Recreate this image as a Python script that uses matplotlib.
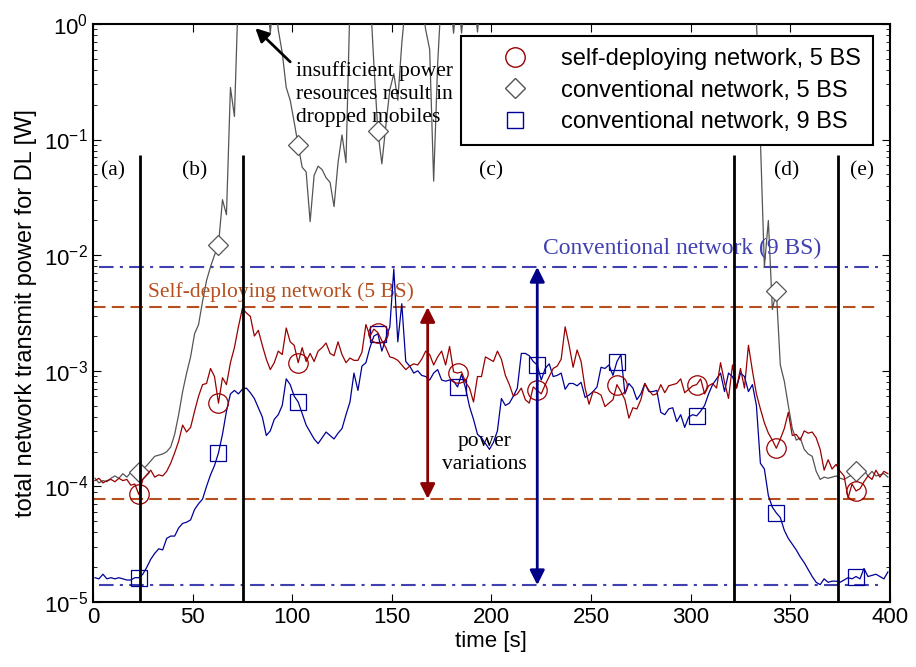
import numpy as np
import matplotlib.pyplot as plt
from matplotlib.lines import Line2D

plt.rcParams['font.family'] = ['Liberation Sans', 'DejaVu Sans']

# time axis of the simulation (one sample every 2 s)
t = np.arange(1, 400, 2)
marker_t = [23, 63, 103, 143, 183, 223, 263, 303, 343, 383]

# log10 of total transmit power [W]
self5_log = [
    -3.95, -3.93, -3.97, -3.95, -3.94, -3.96, -3.93, -3.95, -3.94, -3.99,
    -3.98, -4.07, -3.94, -3.90, -3.86, -3.92, -3.90, -3.91, -3.87, -3.80,
    -3.71, -3.61, -3.47, -3.53, -3.49, -3.35, -3.22, -3.12, -3.11, -2.98,
    -3.05, -3.28, -3.06, -3.12, -2.93, -2.80, -2.62, -2.46, -2.50, -2.53,
    -2.70, -2.65, -2.78, -2.90, -2.99, -2.93, -2.83, -2.86, -2.63, -2.75,
    -2.78, -2.93, -2.80, -2.92, -2.85, -2.92, -2.83, -2.80, -2.76, -2.85,
    -2.87, -2.75, -2.86, -2.93, -2.89, -2.91, -2.91, -2.84, -2.60, -2.70,
    -2.64, -2.67, -2.74, -2.80, -2.88, -2.89, -2.91, -2.95, -2.99, -2.96,
    -2.94, -2.95, -2.90, -2.83, -2.86, -2.95, -2.88, -2.83, -2.95, -2.79,
    -3.01, -3.02, -3.01, -3.10, -3.15, -3.27, -3.05, -3.05, -2.88, -2.90,
    -2.92, -2.83, -2.90, -3.04, -3.12, -3.22, -3.20, -3.15, -3.25, -3.28,
    -3.14, -3.17, -3.20, -3.12, -3.05, -2.98, -2.96, -2.90, -2.62, -2.78,
    -2.97, -2.82, -2.92, -3.15, -3.29, -3.18, -3.19, -3.21, -3.31, -3.28,
    -3.25, -3.12, -3.18, -3.25, -3.41, -3.32, -3.33, -3.25, -3.11, -3.17,
    -3.21, -3.20, -3.12, -3.19, -3.13, -3.12, -3.11, -3.07, -3.19, -3.16,
    -3.13, -3.12, -3.07, -3.20, -3.13, -3.11, -3.15, -2.93, -3.10, -3.24,
    -2.95, -3.15, -2.98, -3.15, -2.78, -3.00, -3.20, -3.33, -3.45, -3.54,
    -3.60, -3.67, -3.59, -3.50, -3.36, -3.56, -3.55, -3.60, -3.52, -3.54,
    -3.53, -3.58, -3.68, -3.86, -3.77, -3.85, -3.81, -3.87, -3.91, -4.10,
    -3.98, -4.04, -4.02, -3.96, -3.91, -3.94, -3.86, -3.92, -3.87, -3.89,
]

conv5_log = [
    -3.93, -3.97, -3.95, -3.96, -3.93, -3.91, -3.93, -3.89, -3.92, -3.88,
    -3.92, -3.88, -3.85, -3.82, -3.78, -3.74, -3.73, -3.72, -3.70, -3.66,
    -3.55, -3.38, -3.18, -3.02, -2.88, -2.68, -2.60, -2.40, -2.22, -2.10,
    -2.00, -1.91, -1.52, -1.65, -0.55, -0.80, 0.30, 0.50, 0.50, 0.40,
    0.50, 0.50, 0.40, 0.30, -0.08, 0.30, -0.05, -0.25, -0.55, -0.66,
    -0.85, -1.05, -1.24, -1.28, -1.71, -1.31, -1.23, -1.26, -1.33, -1.37,
    -1.58, -1.20, -0.96, -1.20, 0.20, 0.40, 0.50, 0.50, 0.50, 0.30,
    -0.35, -0.93, -1.21, -0.88, -0.57, -0.43, -0.66, -0.17, 0.20, 0.40,
    0.50, 0.40, 0.20, -0.05, -0.22, -1.36, -0.35, 0.30, 0.50, 0.30,
    -0.08, 0.30, -0.08, 0.30, 0.50, 0.30, -0.07, 0.30, 0.50, 0.50,
    0.50, 0.60, 0.50, 0.40, 0.50, 0.60, 0.50, 0.50, 0.40, 0.50,
    0.50, 0.60, 0.50, 0.50, 0.40, 0.50, 0.60, 0.50, 0.50, 0.50,
    0.40, 0.50, 0.50, 0.60, 0.50, 0.50, 0.40, 0.50, 0.50, 0.60,
    0.50, 0.50, 0.40, 0.50, 0.60, 0.50, 0.50, 0.40, 0.50, 0.50,
    0.60, 0.50, 0.50, 0.40, 0.50, 0.50, 0.60, 0.50, 0.50, 0.40,
    0.50, 0.50, 0.60, 0.50, 0.50, 0.40, 0.50, 0.50, 0.60, 0.50,
    0.50, 0.50, 0.50, 0.40, 0.40, 0.30, 0.05, -1.00, -2.10, -1.70,
    -2.47, -2.31, -2.95, -3.09, -3.30, -3.50, -3.60, -3.58, -3.68, -3.72,
    -3.74, -3.87, -3.94, -3.92, -3.93, -3.92, -3.91, -3.93, -3.94, -3.92,
    -3.90, -3.87, -3.92, -3.86, -3.91, -3.87, -3.91, -3.90, -3.89, -3.92,
]

conv9_log = [
    -4.79, -4.80, -4.76, -4.80, -4.79, -4.80, -4.79, -4.80, -4.81, -4.81,
    -4.79, -4.79, -4.76, -4.70, -4.63, -4.58, -4.54, -4.55, -4.45, -4.43,
    -4.43, -4.36, -4.32, -4.31, -4.29, -4.20, -4.15, -4.11, -4.00, -3.90,
    -3.82, -3.71, -3.55, -3.35, -3.20, -3.17, -3.20, -3.16, -3.15, -3.19,
    -3.24, -3.32, -3.40, -3.56, -3.52, -3.42, -3.38, -3.30, -3.07, -3.12,
    -3.22, -3.27, -3.37, -3.47, -3.53, -3.59, -3.63, -3.58, -3.53, -3.56,
    -3.59, -3.54, -3.50, -3.38, -3.27, -3.02, -3.17, -2.96, -2.93, -2.80,
    -2.70, -2.68, -2.83, -2.72, -2.62, -2.12, -2.75, -2.42, -2.92, -2.96,
    -3.02, -3.00, -3.04, -3.05, -3.08, -3.02, -2.99, -3.08, -3.09, -3.08,
    -3.09, -3.14, -3.03, -3.15, -3.31, -3.42, -3.55, -3.58, -3.63, -3.68,
    -3.62, -3.52, -3.24, -3.30, -3.28, -3.22, -3.15, -2.85, -2.85, -2.87,
    -2.92, -2.95, -3.08, -2.98, -2.94, -3.05, -3.04, -3.02, -3.16, -3.11,
    -3.11, -3.13, -3.10, -3.23, -3.21, -3.18, -3.14, -2.97, -2.98, -2.95,
    -3.04, -2.92, -2.86, -3.20, -3.11, -3.15, -3.25, -3.20, -3.11, -3.18,
    -3.18, -3.17, -3.36, -3.38, -3.33, -3.32, -3.44, -3.38, -3.49, -3.40,
    -3.38, -3.39, -3.35, -3.30, -3.20, -3.12, -3.07, -3.02, -3.18, -3.02,
    -3.05, -3.15, -3.02, -3.05, -3.18, -3.12, -3.30, -3.80, -3.85, -4.08,
    -4.18, -4.23, -4.27, -4.38, -4.45, -4.50, -4.55, -4.61, -4.66, -4.72,
    -4.78, -4.83, -4.85, -4.80, -4.83, -4.82, -4.82, -4.83, -4.81, -4.79,
    -4.80, -4.78, -4.80, -4.71, -4.78, -4.77, -4.76, -4.78, -4.80, -4.74,
]

# power ranges of the two networks
self5_range = [7.8e-5, 3.55e-3]
conv9_range = [1.4e-5, 7.9e-3]

# phase borders (a)-(e)
phase_borders = [23.5, 75.5, 322, 374]
phase_labels = ['(a)', '(b)', '(c)', '(d)', '(e)']
phase_label_x = [10, 51, 200, 348, 386]

red = '#990000'
grey = '#555555'
blue = '#000099'
brown = '#b5501e'
lightblue = '#4040b0'
serif = 'Liberation Serif'

fig = plt.figure(figsize=(9.16, 6.67), dpi=100)
ax = fig.add_axes([0.1015, 0.0975, 0.870, 0.8666])
ax.set_yscale('log')

mark_idx = list(np.searchsorted(t, marker_t))
ax.plot(t, 10 ** np.array(conv5_log), color=grey, lw=0.9, marker='D', ms=10,
        mfc='white', mec=grey, mew=0.9, markevery=mark_idx, zorder=3)
ax.plot(t, 10 ** np.array(conv9_log), color=blue, lw=0.9, marker='s', ms=11,
        mfc='none', mec=blue, mew=0.9, markevery=mark_idx, zorder=4)
ax.plot(t, 10 ** np.array(self5_log), color=red, lw=0.9, marker='o', ms=14,
        mfc='none', mec=red, mew=0.9, markevery=mark_idx, zorder=5)

# reference levels
for y in conv9_range:
    ax.hlines(y, 3, 394, colors=lightblue, linestyles=(0, (7, 3, 1.5, 3)), lw=1.5, zorder=2)
for y in self5_range:
    ax.hlines(y, 0, 394, colors=brown, linestyles=(0, (6, 3)), lw=1.5, zorder=2)

ax.vlines(phase_borders, 1e-5, 0.074, colors='black', lw=2, zorder=6)
for lab, x in zip(phase_labels, phase_label_x):
    ax.text(x, 0.0535, lab, ha='center', va='center', fontsize=15.5, family=serif)

ax.annotate('', xy=(168, self5_range[1]), xytext=(168, self5_range[0]),
            arrowprops=dict(arrowstyle='<|-|>', color='#8b0000', lw=2,
                            mutation_scale=22, shrinkA=0, shrinkB=0), zorder=7)
ax.annotate('', xy=(223, conv9_range[1]), xytext=(223, conv9_range[0]),
            arrowprops=dict(arrowstyle='<|-|>', color='#000088', lw=2,
                            mutation_scale=22, shrinkA=0, shrinkB=0), zorder=7)

ax.text(196.5, 1.95e-4, 'power\nvariations', ha='center', va='center',
        fontsize=15.5, family=serif, linespacing=1.3)
ax.text(27.5, 4.8e-3, 'Self-deploying network (5 BS)', ha='left', va='center',
        fontsize=15.5, family=serif, color=brown)
ax.text(226, 1.15e-2, 'Conventional network (9 BS)', ha='left', va='center',
        fontsize=17, family=serif, color=lightblue)
ax.text(102, 0.48, 'insufficient power\nresources result in\ndropped mobiles',
        ha='left', va='top', fontsize=15.5, family=serif, linespacing=1.3)
ax.annotate('', xy=(81.5, 0.92), xytext=(99, 0.47),
            arrowprops=dict(arrowstyle='-|>', color='black', lw=2,
                            mutation_scale=20, shrinkA=0, shrinkB=0))

ax.set_xlim(0, 400)
ax.set_ylim(1e-5, 1)
ax.set_xticks(range(0, 401, 50))
ax.tick_params(which='both', direction='in', top=True, right=True, labelsize=16)
ax.tick_params(which='major', length=6)
ax.tick_params(which='minor', length=3)
for s in ax.spines.values():
    s.set_linewidth(1.5)
ax.set_xlabel('time [s]', fontsize=16, labelpad=2)
ax.set_ylabel('total network transmit power for DL [W]', fontsize=17, labelpad=5)

handles = [
    Line2D([], [], ls='none', marker='o', ms=14, mfc='none', mec=red),
    Line2D([], [], ls='none', marker='D', ms=10, mfc='none', mec=grey),
    Line2D([], [], ls='none', marker='s', ms=11, mfc='none', mec=blue),
]
labels = ['self-deploying network, 5 BS', 'conventional network, 5 BS',
          'conventional network, 9 BS']
leg = ax.legend(handles, labels, loc='upper right', bbox_to_anchor=(0.979, 0.979),
                borderaxespad=0, fontsize=17, fancybox=False, framealpha=1,
                edgecolor='black', handletextpad=0.15, borderpad=0.5,
                labelspacing=0.41, handlelength=3.6)
leg.get_frame().set_linewidth(1.5)
leg.set_zorder(10)

fig.savefig('out.png', dpi=100)
